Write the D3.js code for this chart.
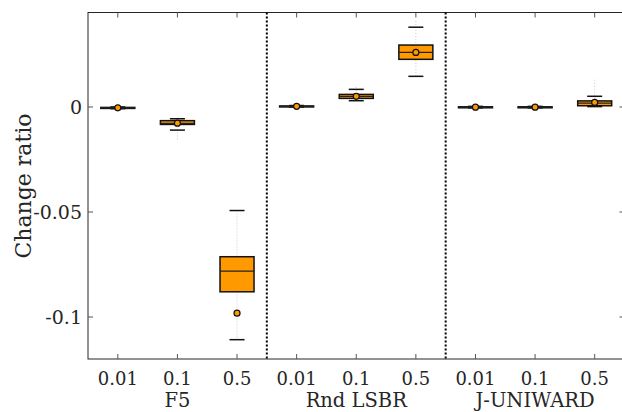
<!DOCTYPE html>
<html><head><meta charset="utf-8">
<script src="https://cdn.jsdelivr.net/npm/d3@7"></script>
<style>body{margin:0;background:#fff}svg{display:block}
text{font-family:"DejaVu Serif","Liberation Serif","Times New Roman",serif}
</style>
</head><body>
<script>
const groups = ["F5", "Rnd LSBR", "J-UNIWARD"];
const rates = ["0.01", "0.1", "0.5"];
// per box, order: F5(0.01,0.1,0.5), Rnd LSBR(...), J-UNIWARD(...)
const whiskerLow  = [-0.0008, -0.0110, -0.1108,  0.0000, 0.0030, 0.0146, -0.0004, -0.0004, 0.0002];
const q1          = [-0.0006, -0.0083, -0.0880,  0.0001, 0.0041, 0.0227, -0.0002, -0.0002, 0.0006];
const medians     = [-0.0004, -0.0078, -0.0782,  0.0003, 0.0051, 0.0260, -0.0001, -0.0001, 0.0018];
const q3          = [-0.0002, -0.0065, -0.0713,  0.0005, 0.0060, 0.0295,  0.0001,  0.0001, 0.0029];
const whiskerHigh = [ 0.0000, -0.0056, -0.0493,  0.0007, 0.0084, 0.0380,  0.0003,  0.0003, 0.0051];
const means       = [-0.0004, -0.0077, -0.0982,  0.0003, 0.0051, 0.0260, -0.0001, -0.0001, 0.0022];
const extremeLow  = [-0.0010, -0.0160, -0.1108,  0.0000, 0.0028, 0.0146, -0.0006, -0.0006, 0.0000];
const extremeHigh = [ 0.0002, -0.0050, -0.0493,  0.0009, 0.0095, 0.0410,  0.0005,  0.0005, 0.0130];
const yTicks = [-0.1, -0.05, 0];
const yTickLabels = ["-0.1", "-0.05", "0"];

const W = 622, H = 412;
const mL = 88, mT = 12.5, mR = 624.5, mB = 359;
const svg = d3.select("body").append("svg").attr("width", W).attr("height", H);
const axisCol = "#262626";

const x = d3.scaleLinear().domain([0.5, 9.5]).range([mL, mR]);
const y = d3.scaleLinear().domain([-0.12, 0.045]).range([mB, mT]);

const data = medians.map((m, i) => ({
  pos: i + 1, lo: whiskerLow[i], q1: q1[i], med: m, q3: q3[i], hi: whiskerHigh[i],
  mean: means[i], xlo: extremeLow[i], xhi: extremeHigh[i]
}));

svg.append("rect").attr("x", mL).attr("y", mT).attr("width", mR - mL).attr("height", mB - mT)
  .attr("fill", "none").attr("stroke", axisCol).attr("stroke-width", 1);

const tl = 5;
const xt = d3.range(1, 10);
const tickG = svg.append("g").attr("stroke", "#555").attr("stroke-width", 1);
xt.forEach(p => {
  tickG.append("line").attr("x1", x(p)).attr("x2", x(p)).attr("y1", mB).attr("y2", mB - tl);
  tickG.append("line").attr("x1", x(p)).attr("x2", x(p)).attr("y1", mT).attr("y2", mT + tl);
});
yTicks.forEach(v => {
  tickG.append("line").attr("x1", mL).attr("x2", mL + tl).attr("y1", y(v)).attr("y2", y(v));
  tickG.append("line").attr("x1", mR).attr("x2", mR - tl).attr("y1", y(v)).attr("y2", y(v));
});

yTicks.forEach((v, i) => {
  svg.append("text").attr("x", mL - 6).attr("y", y(v)).attr("dy", "0.36em")
    .attr("text-anchor", "end").attr("font-size", 19)
    .attr("fill", axisCol).text(yTickLabels[i]);
});
xt.forEach((p, i) => {
  svg.append("text").attr("x", x(p)).attr("y", 385).attr("text-anchor", "middle")
    .attr("font-size", 18).attr("fill", axisCol).text(rates[i % 3]);
});
groups.forEach((g, i) => {
  svg.append("text").attr("x", x(i * 3 + 2)).attr("y", 407).attr("text-anchor", "middle")
    .attr("font-size", 19.5).attr("fill", axisCol).text(g);
});
svg.append("text").attr("transform", `translate(31,186) rotate(-90)`)
  .attr("text-anchor", "middle").attr("font-size", 22)
  .attr("fill", axisCol).text("Change ratio");

[3.5, 6.5].forEach(p => {
  svg.append("line").attr("x1", x(p)).attr("x2", x(p)).attr("y1", mT).attr("y2", mB)
    .attr("stroke", "#000").attr("stroke-width", 2).attr("stroke-dasharray", "2,2");
});

const bw = 34, cw = 15;
const orange = "#ff9900";
const bx = svg.append("g");
data.forEach(d => {
  const cx = x(d.pos);
  bx.append("line").attr("x1", cx).attr("x2", cx).attr("y1", y(d.xhi)).attr("y2", y(d.xlo))
    .attr("stroke", "#c8c8c8").attr("stroke-width", 1).attr("stroke-dasharray", "1,2");
  [d.lo, d.hi].forEach(v => {
    bx.append("line").attr("x1", cx - cw / 2).attr("x2", cx + cw / 2).attr("y1", y(v)).attr("y2", y(v))
      .attr("stroke", "#111").attr("stroke-width", 1.5);
  });
  const yt = y(d.q3), yb = y(d.q1);
  bx.append("rect").attr("x", cx - bw / 2).attr("y", yt).attr("width", bw).attr("height", Math.max(yb - yt, 1))
    .attr("fill", orange).attr("stroke", "#111").attr("stroke-width", 1.5);
  bx.append("line").attr("x1", cx - bw / 2).attr("x2", cx + bw / 2).attr("y1", y(d.med)).attr("y2", y(d.med))
    .attr("stroke", "#222").attr("stroke-width", 1.2);
  bx.append("circle").attr("cx", cx).attr("cy", y(d.mean)).attr("r", 3)
    .attr("fill", orange).attr("stroke", "#111").attr("stroke-width", 1.2);
});
</script>
</body></html>
